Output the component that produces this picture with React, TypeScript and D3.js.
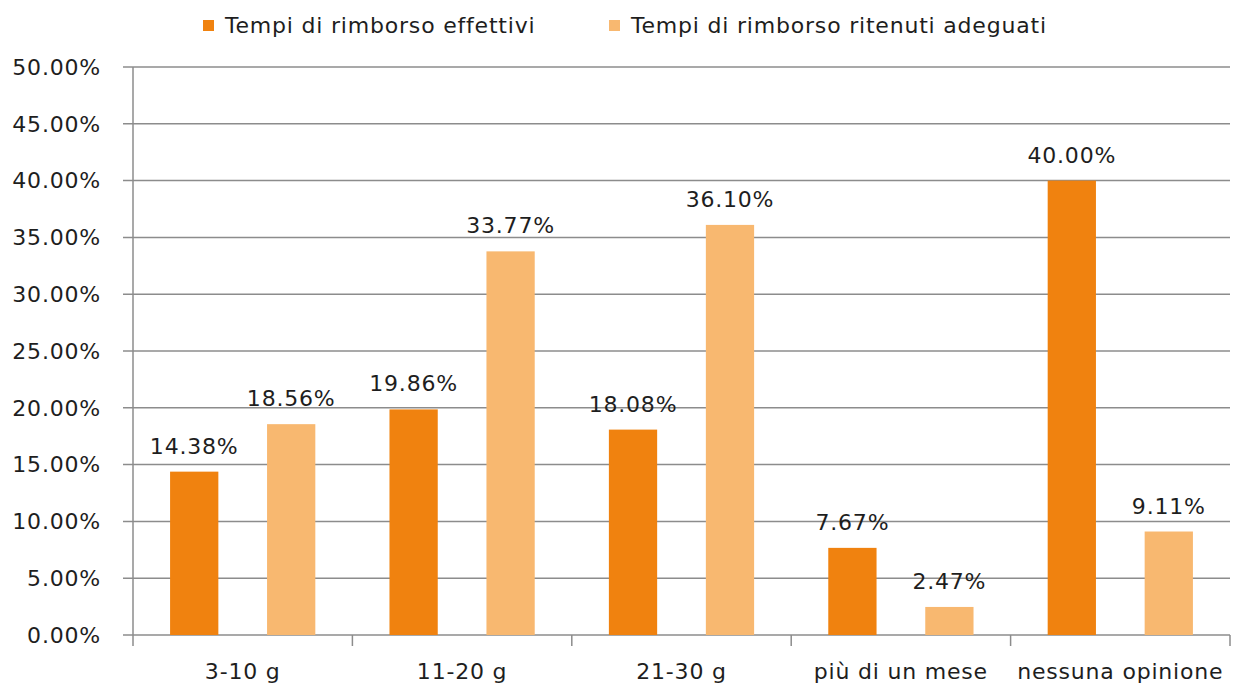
import React, { useEffect, useRef } from 'react';
import * as d3 from 'd3';

const categories = ['3-10 g', '11-20 g', '21-30 g', 'più di un mese', 'nessuna opinione'];
const effettivi = [14.38, 19.86, 18.08, 7.67, 40.0];
const adeguati = [18.56, 33.77, 36.1, 2.47, 9.11];
const seriesNames = ['Tempi di rimborso effettivi', 'Tempi di rimborso ritenuti adeguati'];
const seriesColors = ['#F0820F', '#F8B870'];
const yTicks = [0, 5, 10, 15, 20, 25, 30, 35, 40, 45, 50];

const W = 1239;
const H = 686;

const App: React.FC = () => {
  const svgRef = useRef<SVGSVGElement>(null);

  useEffect(() => {
    if (!svgRef.current) return;
    const svg = d3.select(svgRef.current);
    svg.selectAll('*').remove();

    const left = 133, right = 1230, top = 67, bottom = 635;
    const font = 'DejaVu Sans, Verdana, sans-serif';
    const textColor = '#1e1e1e';
    const lineColor = '#8c8c8c';

    const x = d3.scaleBand<string>().domain(categories).range([left, right]).padding(0);
    const y = d3.scaleLinear().domain([0, 50]).range([bottom, top]);
    const bw = x.bandwidth();
    const barW = bw * 0.22;
    const offsets = [-0.221 * bw, 0.221 * bw];

    const styleText = (sel: any, size: number) =>
      sel.style('font-family', font)
        .style('font-size', size + 'px')
        .style('letter-spacing', '0.8px')
        .style('fill', textColor);

    // grid lines
    svg.append('g')
      .selectAll('line')
      .data(yTicks)
      .enter().append('line')
      .attr('x1', left - 10)
      .attr('x2', right)
      .attr('y1', d => y(d))
      .attr('y2', d => y(d))
      .attr('stroke', lineColor)
      .attr('stroke-width', 1.5);

    // y axis line
    svg.append('line')
      .attr('x1', left).attr('x2', left)
      .attr('y1', top).attr('y2', bottom)
      .attr('stroke', lineColor).attr('stroke-width', 1.5);

    // y tick labels
    styleText(
      svg.append('g')
        .selectAll('text')
        .data(yTicks)
        .enter().append('text')
        .attr('x', left - 32)
        .attr('y', d => y(d))
        .attr('dy', '0.35em')
        .attr('text-anchor', 'end')
        .text((d: number) => d.toFixed(2) + '%'),
      22
    );

    // x category ticks
    const bounds = categories.map(c => x(c) as number).concat([right]);
    svg.append('g')
      .selectAll('line')
      .data(bounds)
      .enter().append('line')
      .attr('x1', d => d).attr('x2', d => d)
      .attr('y1', bottom).attr('y2', bottom + 11)
      .attr('stroke', lineColor).attr('stroke-width', 1.5);

    // bars + labels
    [effettivi, adeguati].forEach((vals, s) => {
      const g = svg.append('g');
      g.selectAll('rect')
        .data(vals)
        .enter().append('rect')
        .attr('x', (d, i) => (x(categories[i]) as number) + bw / 2 + offsets[s] - barW / 2)
        .attr('y', d => y(d))
        .attr('width', barW)
        .attr('height', d => bottom - y(d))
        .attr('fill', seriesColors[s]);

      styleText(
        g.selectAll('text')
          .data(vals)
          .enter().append('text')
          .attr('x', (d: number, i: number) => (x(categories[i]) as number) + bw / 2 + offsets[s])
          .attr('y', (d: number) => y(d) - 18)
          .attr('text-anchor', 'middle')
          .text((d: number) => d.toFixed(2) + '%'),
        22
      );
    });

    // category labels
    styleText(
      svg.append('g')
        .selectAll('text')
        .data(categories)
        .enter().append('text')
        .attr('x', (d: string) => (x(d) as number) + bw / 2)
        .attr('y', 679)
        .attr('text-anchor', 'middle')
        .text((d: string) => d),
      22
    );

    // legend
    const legendX = [203, 609];
    seriesNames.forEach((name, i) => {
      const lg = svg.append('g').attr('transform', `translate(${legendX[i]}, 0)`);
      lg.append('rect')
        .attr('x', 0).attr('y', 20)
        .attr('width', 11).attr('height', 11)
        .attr('fill', seriesColors[i]);
      styleText(
        lg.append('text')
          .attr('x', 22).attr('y', 33)
          .text(name),
        22
      );
    });
  }, []);

  return (
    <div style={{ position: 'absolute', left: 0, top: 0, width: W, height: H, overflow: 'hidden' }}>
      <svg ref={svgRef} width={W} height={H} style={{ display: 'block', background: '#fff' }} />
    </div>
  );
};

export default App;
